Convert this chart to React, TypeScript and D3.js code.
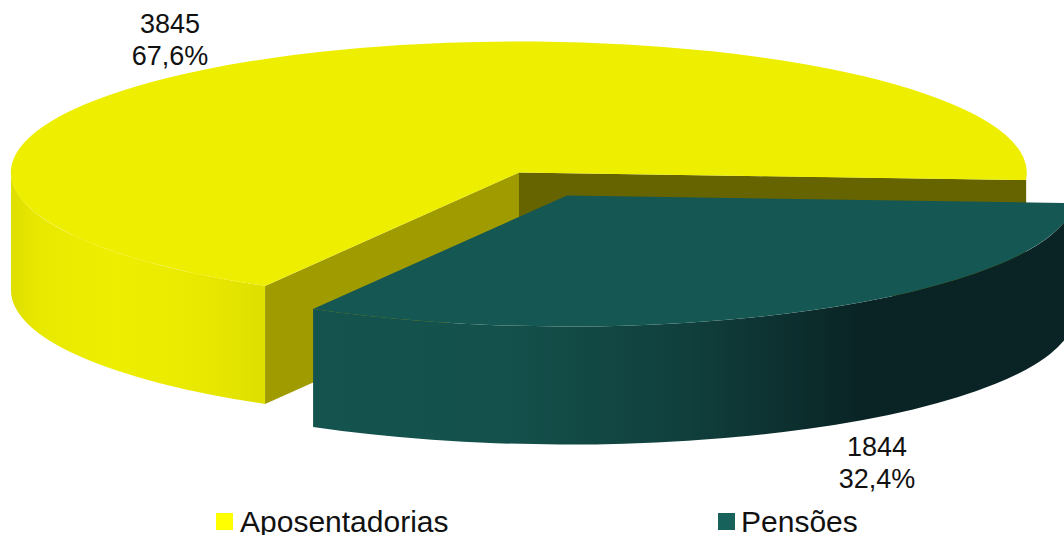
import React from "react";
import * as d3 from "d3";

const categories = ["Pensões", "Aposentadorias"];
const counts = [1844, 3845];
const shares = ["32,4%", "67,6%"];

const width = 1064;
const height = 535;
const rx = 508;
const ry = 131;
const depth = 118;
const font = "'Liberation Sans', sans-serif";

const toRad = (deg: number) => (deg * Math.PI) / 180;

// pie angles are from 12 o'clock, clockwise
const pie = d3
  .pie<number>()
  .sort(null)
  .startAngle(toRad(93.3))
  .endAngle(toRad(93.3 + 360));
const [pensoes, aposent] = pie(counts);

const point = (cx: number, cy: number, a: number): [number, number] => [
  cx + rx * Math.sin(a),
  cy - ry * Math.cos(a),
];

// top face, arc drawn on a unit circle then squashed
const arc = d3.arc<d3.PieArcDatum<number>>().innerRadius(0).outerRadius(1);

// outer wall between two angles
const wall = (cx: number, cy: number, a0: number, a1: number) => {
  const [x0, y0] = point(cx, cy, a0);
  const [x1, y1] = point(cx, cy, a1);
  return (
    `M${x0},${y0}A${rx},${ry} 0 0 1 ${x1},${y1}` +
    `L${x1},${y1 + depth}A${rx},${ry} 0 0 0 ${x0},${y0 + depth}Z`
  );
};

const cut = (cx: number, cy: number, a: number) => {
  const [x, y] = point(cx, cy, a);
  return `M${cx},${cy}L${x},${y}L${x},${y + depth}L${cx},${cy + depth}Z`;
};

const App = () => {
  const yc = [519, 172.5];
  const tc = [567, 195.5];
  return (
    <svg
      width={width}
      height={height}
      viewBox={`0 0 ${width} ${height}`}
      style={{ position: "absolute", left: 0, top: 0, display: "block" }}
      fontFamily={font}
      fill="#111"
    >
      <defs>
        <linearGradient id="yWall" gradientUnits="userSpaceOnUse" x1={11} x2={265} y1={0} y2={0}>
          <stop offset="0" stopColor="#dfdf00" />
          <stop offset="0.12" stopColor="#e9e900" />
          <stop offset="0.4" stopColor="#eeee00" />
          <stop offset="0.7" stopColor="#eaea00" />
          <stop offset="1" stopColor="#dfdf00" />
        </linearGradient>
        <linearGradient id="tWall" gradientUnits="userSpaceOnUse" x1={313} x2={1064} y1={0} y2={0}>
          <stop offset="0" stopColor="#14534e" />
          <stop offset="0.25" stopColor="#14514c" />
          <stop offset="0.5" stopColor="#103f3c" />
          <stop offset="0.73" stopColor="#0a2425" />
          <stop offset="1" stopColor="#0a2425" />
        </linearGradient>
      </defs>

      {/* yellow slice */}
      <path d={wall(yc[0], yc[1], toRad(210), toRad(270))} fill="url(#yWall)" />
      <path d={cut(yc[0], yc[1], aposent.startAngle)} fill="#a09c00" />
      <path d={cut(yc[0], yc[1], aposent.endAngle)} fill="#666400" />
      <path
        d={arc(aposent)!}
        transform={`translate(${yc[0]},${yc[1]}) scale(${rx},${ry})`}
        fill="#eeee00"
      />

      {/* pulled out slice */}
      <path d={wall(tc[0], tc[1], pensoes.startAngle, pensoes.endAngle)} fill="url(#tWall)" />
      <path
        d={arc(pensoes)!}
        transform={`translate(${tc[0]},${tc[1]}) scale(${rx},${ry})`}
        fill="#155752"
      />

      {/* data labels */}
      <g fontSize={27} textAnchor="middle">
        <text x={170} y={33}>{counts[1]}</text>
        <text x={170} y={64.5}>{shares[1]}</text>
        <text x={877} y={456}>{counts[0]}</text>
        <text x={877} y={487.5}>{shares[0]}</text>
      </g>

      {/* legend */}
      <g fontSize={30}>
        <rect x={216} y={513} width={17} height={17} fill="#ffff00" />
        <text x={240} y={532}>{categories[1]}</text>
        <rect x={718} y={513} width={17} height={17} fill="#18625c" />
        <text x={741} y={532}>{categories[0]}</text>
      </g>
    </svg>
  );
};

export default App;
